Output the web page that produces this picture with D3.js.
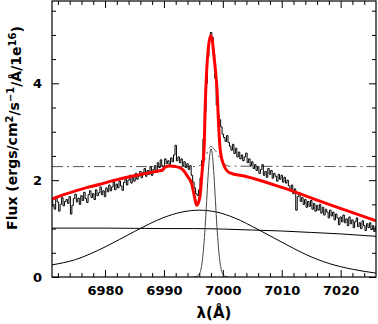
<!DOCTYPE html>
<html>
<head>
<meta charset="utf-8">
<script src="https://cdn.jsdelivr.net/npm/d3@7"></script>
<style>
  html, body { margin: 0; padding: 0; background: #fff; }
  svg text { font-family: "DejaVu Sans", sans-serif; font-weight: bold; }
</style>
</head>
<body>
<div id="chart"></div>
<script>
// observed spectrum, sampled every 0.25 A from 6971.0
var specStart = 6971.0;
var specStep = 0.25;
var specFlux = [
  1.58, 1.46, 1.40, 1.62, 1.55, 1.36, 1.50, 1.64, 1.47, 1.56,
  1.60, 1.52, 1.66, 1.30, 1.48, 1.62, 1.71, 1.55, 1.63, 1.50,
  1.68, 1.58, 1.75, 1.62, 1.54, 1.70, 1.78, 1.64, 1.72, 1.60,
  1.80, 1.68, 1.74, 1.86, 1.70, 1.78, 1.66, 1.84, 1.76, 1.90,
  1.78, 1.86, 1.96, 1.80, 1.92, 1.84, 1.98, 1.88, 1.79, 1.95,
  2.04, 1.90, 2.00, 2.10, 1.94, 2.06, 1.98, 2.14, 2.02, 2.08,
  2.18, 2.05, 2.16, 2.24, 2.08, 2.20, 2.12, 2.28, 2.10, 2.22,
  2.30, 2.16, 2.36, 2.26, 2.42, 2.30, 2.24, 2.44, 2.34, 2.40,
  2.32, 2.46, 2.38, 2.52, 2.72, 2.40, 2.48, 2.36, 2.44, 2.30,
  2.38, 2.26, 2.34, 2.22, 2.30, 2.10, 1.96, 1.84, 1.72, 1.68,
  1.80, 2.05, 2.40, 2.85, 3.40, 4.00, 4.55, 4.90, 5.05, 4.95,
  4.60, 4.10, 3.55, 3.35, 3.25, 3.10, 2.95, 2.88, 2.80, 2.92,
  2.78, 2.70, 2.62, 2.74, 2.55, 2.66, 2.48, 2.58, 2.44, 2.52,
  2.40, 2.48, 2.56, 2.36, 2.44, 2.30, 2.38, 2.24, 2.32, 2.20,
  2.28, 2.14, 2.22, 2.32, 2.10, 2.18, 2.06, 2.24, 2.12, 2.20,
  2.04, 2.14, 2.08, 1.98, 2.12, 2.02, 2.10, 1.96, 2.06, 1.94,
  2.00, 1.88, 1.80, 1.90, 1.72, 1.82, 1.38, 1.66, 1.74, 1.56,
  1.64, 1.50, 1.60, 1.44, 1.56, 1.46, 1.58, 1.40, 1.52, 1.36,
  1.48, 1.38, 1.50, 1.32, 1.44, 1.28, 1.40, 1.34, 1.22, 1.38,
  1.26, 1.34, 1.18, 1.30, 1.22, 1.08, 1.24, 1.14, 1.28, 1.12,
  1.20, 1.06, 1.24, 1.10, 1.18, 1.02, 1.14, 1.22, 1.04, 1.12,
  1.00, 1.16, 1.06, 0.96, 1.10, 1.02, 1.12, 0.98, 1.06, 0.94,
  1.04
];

// total model fit (red)
var fitWave = [6971.0, 6973.0, 6975.0, 6977.0, 6979.0, 6981.0, 6983.0, 6985.0, 6987.0, 6989.0,
  6989.8, 6990.2, 6991.0, 6992.0, 6992.8, 6993.4, 6994.0, 6994.7, 6995.2, 6995.55,
  6996.1, 6996.5, 6996.85, 6997.0, 6997.25, 6997.55, 6997.9, 6998.2, 6998.5, 6998.8,
  6999.0, 6999.25, 6999.5, 6999.8, 7000.1, 7000.6, 7001.2, 7003.8, 7010.0, 7018.0, 7026.0];
var fitFlux = [1.61, 1.70, 1.78, 1.85, 1.91, 1.98, 2.04, 2.09, 2.14, 2.19,
  2.21, 2.27, 2.29, 2.28, 2.25, 2.19, 2.08, 1.93, 1.65, 1.48,
  1.65, 2.20, 2.75, 3.50, 4.25, 4.74, 4.98, 4.90, 4.55, 4.20,
  3.90, 3.23, 2.70, 2.45, 2.33, 2.21, 2.15, 2.08, 1.85, 1.50, 1.16];

// slowly declining continuum component
var contWave = [6971, 6980, 6990, 6995, 7000, 7005, 7010, 7015, 7020, 7026];
var contFlux = [1.01, 1.01, 1.00, 1.00, 0.99, 0.97, 0.95, 0.92, 0.89, 0.84];

// broad emission component
var broadWave = [6971, 6975, 6980, 6985, 6990, 6993, 6996, 6999, 7002, 7006, 7010, 7014, 7018, 7022, 7026];
var broadFlux = [0.25, 0.36, 0.62, 0.94, 1.23, 1.34, 1.38, 1.34, 1.22, 0.98, 0.72, 0.47, 0.28, 0.16, 0.08];

// narrow emission component (gray)
var narrowWave = [6995.0, 6995.5, 6996.0, 6996.25, 6996.5, 6996.75, 6997.0, 6997.25, 6997.5, 6997.75,
  6998.0, 6998.25, 6998.5, 6998.75, 6999.0, 6999.25, 6999.5, 6999.75, 7000.0, 7000.5, 7001.0];
var narrowFlux = [0.0, 0.01, 0.06, 0.14, 0.32, 0.62, 1.04, 1.56, 2.09, 2.49,
  2.65, 2.49, 2.09, 1.56, 1.04, 0.62, 0.32, 0.14, 0.06, 0.01, 0.0];

// dash-dot level
var levelWave = [6971, 6995.5, 6996.0, 6996.5, 6997.0, 6997.5, 6998.0, 6998.5, 6999.0, 6999.5, 7000.0, 7000.5, 7001.0, 7026];
var levelFlux = [2.28, 2.28, 2.30, 2.33, 2.45, 2.62, 2.70, 2.64, 2.57, 2.45, 2.37, 2.31, 2.29, 2.28];

var xMajor = [6980, 6990, 7000, 7010, 7020];
var yMajor = [0, 2, 4];

function start(){
    var W = 378, H = 324;
    var margin = {top: 1, right: 2, bottom: 47, left: 52};
    var pw = W - margin.left - margin.right;
    var ph = H - margin.top - margin.bottom;

    var svg = d3.select("#chart").append("svg")
        .attr("width", W)
        .attr("height", H);

    var g = svg.append("g")
        .attr("transform", "translate(" + margin.left + "," + margin.top + ")");

    var x = d3.scaleLinear().domain([6971, 7026]).range([0, pw]);
    var y = d3.scaleLinear().domain([0, 5.7]).range([ph, 0]);

    g.append("clipPath").attr("id", "clip")
        .append("rect").attr("width", pw).attr("height", ph);

    var plot = g.append("g").attr("clip-path", "url(#clip)");

    function pairs(xs, ys){
        return xs.map(function(d, i){ return [d, ys[i]]; });
    }

    var smooth = d3.line()
        .x(function(d){ return x(d[0]); })
        .y(function(d){ return y(d[1]); })
        .curve(d3.curveMonotoneX);

    // dash-dot level
    plot.append("path")
        .attr("d", smooth(pairs(levelWave, levelFlux)))
        .attr("fill", "none")
        .attr("stroke", "#555")
        .attr("stroke-width", 1)
        .attr("stroke-dasharray", "11,4,2,4");

    // continuum + broad components
    plot.append("path")
        .attr("d", smooth(pairs(contWave, contFlux)))
        .attr("fill", "none").attr("stroke", "#000").attr("stroke-width", 1);

    plot.append("path")
        .attr("d", smooth(pairs(broadWave, broadFlux)))
        .attr("fill", "none").attr("stroke", "#000").attr("stroke-width", 1);

    // spectrum as a histogram
    var specData = specFlux.map(function(v, i){ return [specStart + i * specStep, v]; });
    var step = d3.line()
        .x(function(d){ return x(d[0]); })
        .y(function(d){ return y(d[1]); })
        .curve(d3.curveStep);

    plot.append("path")
        .attr("d", step(specData))
        .attr("fill", "none")
        .attr("stroke", "#000")
        .attr("stroke-width", 1);

    // narrow component
    plot.append("path")
        .attr("d", smooth(pairs(narrowWave, narrowFlux)))
        .attr("fill", "none").attr("stroke", "#444").attr("stroke-width", 1);

    // red fit
    plot.append("path")
        .attr("d", smooth(pairs(fitWave, fitFlux)))
        .attr("fill", "none")
        .attr("stroke", "#ff0000")
        .attr("stroke-width", 3)
        .attr("stroke-linejoin", "round");

    // axes, ticks pointing inward
    var xMinor = d3.range(6972, 7026, 2).filter(function(v){ return v % 10 != 0; });
    var yMinor = d3.range(0.5, 5.7, 0.5).filter(function(v){ return v % 2 != 0; });

    g.append("g").attr("transform", "translate(0," + ph + ")")
        .call(d3.axisBottom(x).tickValues(xMinor).tickSize(-4).tickFormat(""));
    g.append("g").attr("transform", "translate(0," + ph + ")")
        .attr("class", "x_axis")
        .call(d3.axisBottom(x).tickValues(xMajor).tickSize(-7).tickPadding(9).tickFormat(d3.format("d")));
    g.append("g")
        .call(d3.axisTop(x).tickValues(xMinor).tickSize(-4).tickFormat(""));
    g.append("g")
        .call(d3.axisTop(x).tickValues(xMajor).tickSize(-7).tickFormat(""));

    g.append("g")
        .call(d3.axisLeft(y).tickValues(yMinor).tickSize(-4).tickFormat(""));
    g.append("g")
        .attr("class", "y_axis")
        .call(d3.axisLeft(y).tickValues(yMajor).tickSize(-7).tickPadding(10).tickFormat(d3.format("d")));
    g.append("g").attr("transform", "translate(" + pw + ",0)")
        .call(d3.axisRight(y).tickValues(yMinor).tickSize(-4).tickFormat(""));
    g.append("g").attr("transform", "translate(" + pw + ",0)")
        .call(d3.axisRight(y).tickValues(yMajor).tickSize(-7).tickFormat(""));

    g.selectAll(".domain").remove();
    g.selectAll(".tick line").attr("stroke", "#000").attr("stroke-width", 1);
    g.selectAll(".x_axis text, .y_axis text")
        .style("font-size", "13px")
        .attr("fill", "#000");

    g.append("rect")
        .attr("width", pw).attr("height", ph)
        .attr("fill", "none")
        .attr("stroke", "#000")
        .attr("stroke-width", 1.2);

    // axis titles
    svg.append("text")
        .attr("x", 214)
        .attr("y", 318)
        .attr("text-anchor", "middle")
        .style("font-size", "15px")
        .text("λ(Å)");

    var yl = svg.append("text")
        .attr("transform", "translate(17,128) rotate(-90)")
        .attr("text-anchor", "middle")
        .style("font-size", "14px");
    yl.append("tspan").text("Flux  (ergs/cm");
    yl.append("tspan").attr("dy", "-0.45em").style("font-size", "10px").text("2");
    yl.append("tspan").attr("dy", "0.45em").text("/s");
    yl.append("tspan").attr("dy", "-0.45em").style("font-size", "10px").text("−1");
    yl.append("tspan").attr("dy", "0.45em").text("/Å/1e");
    yl.append("tspan").attr("dy", "-0.45em").style("font-size", "10px").text("16");
    yl.append("tspan").attr("dy", "0.45em").text(")");
}

start();
</script>
</body>
</html>
